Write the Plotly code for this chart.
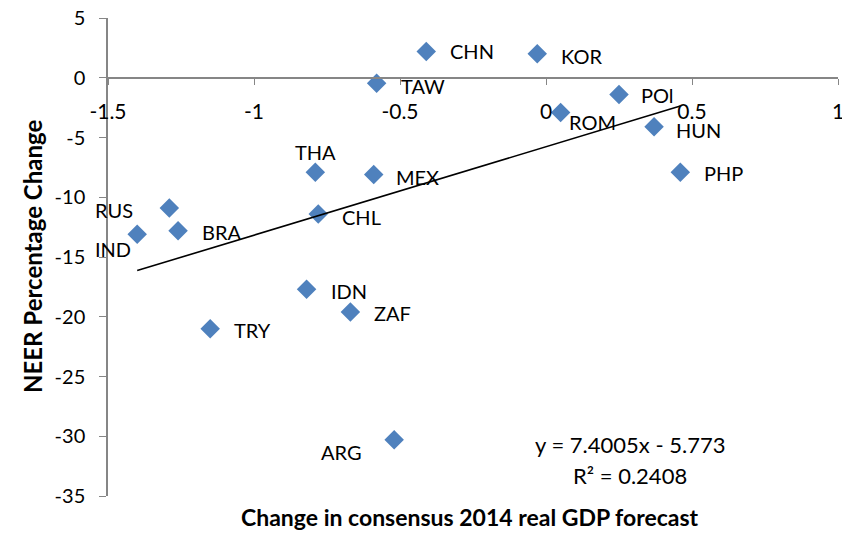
import plotly.graph_objects as go

# ---- data ----
countries = ["CHN", "KOR", "TAW", "ROM", "POl", "HUN", "PHP", "THA", "MEX", "CHL",
             "RUS", "BRA", "IND", "IDN", "ZAF", "TRY", "ARG"]
gdp_change = [-0.41, -0.03, -0.58, 0.05, 0.25, 0.37, 0.46, -0.79, -0.59, -0.78,
              -1.29, -1.26, -1.40, -0.82, -0.67, -1.15, -0.52]
neer_change = [2.2, 2.0, -0.45, -2.9, -1.4, -4.1, -7.9, -7.9, -8.1, -11.4,
               -10.9, -12.8, -13.1, -17.7, -19.6, -21.0, -30.3]
trend_slope = 7.4005
trend_intercept = -5.773
r_squared = 0.2408
x_ticks = [-1.5, -1, -0.5, 0, 0.5, 1]
y_ticks = [5, 0, -5, -10, -15, -20, -25, -30, -35]

# ---- label placement styles (pixel offsets) ----
label_style = {
    "CHN": (22, 0, "left"), "KOR": (22, -2, "left"), "TAW": (22, -3, "left"),
    "ROM": (6, -10, "left"), "POl": (20, -1, "left"), "HUN": (20, -3, "left"),
    "PHP": (22, -1, "left"), "THA": (0, 20, "center"), "MEX": (20, -2, "left"),
    "CHL": (22, -3, "left"), "RUS": (-34, -2, "right"), "BRA": (22, -1, "left"),
    "IND": (-4, -15, "right"), "IDN": (22, -2, "left"), "ZAF": (22, -1, "left"),
    "TRY": (22, -1, "left"), "ARG": (-30, -12, "right"),
}

FONT_FAMILY = "Lato, Carlito, Calibri, sans-serif"
LABEL_FONT = dict(family=FONT_FAMILY, size=20, color="#000000")
EQ_FONT = dict(family=FONT_FAMILY, size=22, color="#000000")
AXIS_GRAY = "#868686"

fig = go.Figure()

fig.add_trace(go.Scatter(
    x=gdp_change, y=neer_change, mode="markers",
    marker=dict(symbol="diamond", size=15, color="#4F81BD",
                line=dict(width=0)),
    showlegend=False, hoverinfo="skip",
))

x_lo, x_hi = min(gdp_change), max(gdp_change)
fig.add_trace(go.Scatter(
    x=[x_lo, x_hi],
    y=[trend_slope * x_lo + trend_intercept, trend_slope * x_hi + trend_intercept],
    mode="lines", line=dict(color="#000000", width=1.6),
    showlegend=False, hoverinfo="skip",
))

for c, x, y in zip(countries, gdp_change, neer_change):
    dx, dy, anchor = label_style[c]
    fig.add_annotation(x=x, y=y, xref="x", yref="y", text=c, showarrow=False,
                       xanchor=anchor, yanchor="middle", xshift=dx, yshift=dy,
                       font=LABEL_FONT)

fig.add_annotation(x=0.289, y=-30.7, xref="x", yref="y",
                   text=f"y = {trend_slope}x - {abs(trend_intercept)}",
                   showarrow=False, font=EQ_FONT, xanchor="center", yanchor="middle")
fig.add_annotation(x=0.289, y=-33.3, xref="x", yref="y",
                   text=f"R\u00b2 = {r_squared}",
                   showarrow=False, font=EQ_FONT, xanchor="center", yanchor="middle")

fig.add_annotation(x=0.496, y=0, xref="paper", yref="paper", yshift=-21,
                   text="<b>Change in consensus 2014 real GDP forecast</b>",
                   showarrow=False, xanchor="center", yanchor="middle",
                   font=dict(family=FONT_FAMILY, size=23, color="#000000"))
fig.add_annotation(x=0, y=0.5, xref="paper", yref="paper", xshift=-76,
                   text="<b>NEER Percentage Change</b>", textangle=-90,
                   showarrow=False, xanchor="center", yanchor="middle",
                   font=dict(family=FONT_FAMILY, size=24, color="#000000"))

# the page body has an 8px default margin, so the figure is 8px smaller
fig.update_layout(
    width=842, height=525,
    margin=dict(l=100, r=12, t=10, b=37, autoexpand=False),
    paper_bgcolor="white", plot_bgcolor="white",
    xaxis=dict(range=[-1.5, 1], tickvals=x_ticks, ticktext=[f"{v:g}" for v in x_ticks],
               showgrid=False, zeroline=False, showline=True, linecolor=AXIS_GRAY,
               linewidth=1.5, ticks="outside", ticklen=6, tickcolor=AXIS_GRAY,
               anchor="free", position=35 / 40, ticklabelstandoff=9, automargin=False,
               ticklabeloverflow="allow",
               tickfont=dict(family=FONT_FAMILY, size=21, color="#000000")),
    yaxis=dict(range=[-35, 5], tickvals=y_ticks, ticktext=[f"{v:g}" for v in y_ticks],
               showgrid=False, zeroline=False, showline=True, linecolor=AXIS_GRAY,
               linewidth=1.5, ticks="outside", ticklen=7, tickcolor=AXIS_GRAY,
               ticklabelstandoff=10, automargin=False, ticklabeloverflow="allow",
               tickfont=dict(family=FONT_FAMILY, size=20, color="#000000")),
)

fig.write_html("out.html")
